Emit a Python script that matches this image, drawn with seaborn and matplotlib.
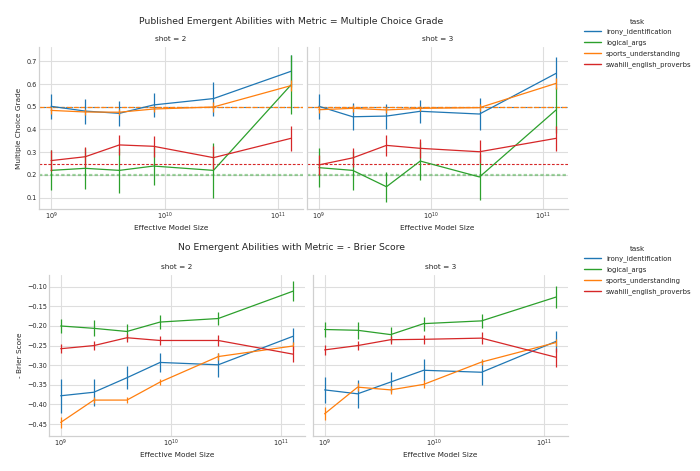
import numpy as np
import pandas as pd
import seaborn as sns
import matplotlib.pyplot as plt
from matplotlib.lines import Line2D

# ---------------- data ----------------
tasks = ["irony_identification", "logical_args", "sports_understanding", "swahili_english_proverbs"]
model_sizes = [1.0e9, 2.0e9, 4.0e9, 8.0e9, 2.7e10, 1.3e11]
shots = [2, 3]

# Multiple Choice Grade, shot = 2
mcg_s2_irony = [0.502, 0.481, 0.471, 0.508, 0.536, 0.656]
mcg_s2_irony_err = [0.056, 0.055, 0.055, 0.054, 0.075, 0.070]
mcg_s2_logic = [0.220, 0.229, 0.220, 0.239, 0.220, 0.596]
mcg_s2_logic_err = [0.088, 0.090, 0.100, 0.085, 0.120, 0.130]
mcg_s2_sports = [0.484, 0.477, 0.476, 0.490, 0.499, 0.593]
mcg_s2_sports_err = [0.015, 0.012, 0.012, 0.012, 0.020, 0.025]
mcg_s2_swahili = [0.263, 0.280, 0.332, 0.326, 0.276, 0.361]
mcg_s2_swahili_err = [0.045, 0.045, 0.045, 0.045, 0.050, 0.055]

# Multiple Choice Grade, shot = 3
mcg_s3_irony = [0.502, 0.456, 0.459, 0.480, 0.468, 0.647]
mcg_s3_irony_err = [0.055, 0.060, 0.055, 0.050, 0.070, 0.070]
mcg_s3_logic = [0.232, 0.220, 0.148, 0.261, 0.191, 0.486]
mcg_s3_logic_err = [0.085, 0.085, 0.065, 0.085, 0.100, 0.100]
mcg_s3_sports = [0.487, 0.493, 0.486, 0.493, 0.496, 0.603]
mcg_s3_sports_err = [0.015, 0.015, 0.015, 0.012, 0.015, 0.025]
mcg_s3_swahili = [0.244, 0.275, 0.330, 0.317, 0.302, 0.361]
mcg_s3_swahili_err = [0.045, 0.042, 0.045, 0.042, 0.050, 0.055]

# chance baselines for Multiple Choice Grade
baselines = [0.5, 0.2, 0.5, 0.25]

# - Brier Score, shot = 2
bs_s2_irony = [-0.378, -0.369, -0.332, -0.293, -0.299, -0.226]
bs_s2_irony_err = [0.044, 0.034, 0.030, 0.025, 0.030, 0.022]
bs_s2_logic = [-0.200, -0.206, -0.214, -0.190, -0.181, -0.111]
bs_s2_logic_err = [0.018, 0.020, 0.020, 0.018, 0.016, 0.025]
bs_s2_sports = [-0.446, -0.389, -0.389, -0.343, -0.278, -0.251]
bs_s2_sports_err = [0.015, 0.008, 0.008, 0.008, 0.008, 0.010]
bs_s2_swahili = [-0.258, -0.250, -0.230, -0.237, -0.237, -0.272]
bs_s2_swahili_err = [0.012, 0.012, 0.010, 0.012, 0.015, 0.020]

# - Brier Score, shot = 3
bs_s3_irony = [-0.363, -0.373, -0.343, -0.313, -0.318, -0.239]
bs_s3_irony_err = [0.033, 0.036, 0.025, 0.028, 0.032, 0.027]
bs_s3_logic = [-0.209, -0.211, -0.222, -0.194, -0.187, -0.126]
bs_s3_logic_err = [0.020, 0.022, 0.020, 0.018, 0.017, 0.027]
bs_s3_sports = [-0.424, -0.356, -0.363, -0.349, -0.292, -0.242]
bs_s3_sports_err = [0.017, 0.010, 0.010, 0.010, 0.008, 0.010]
bs_s3_swahili = [-0.261, -0.250, -0.235, -0.234, -0.231, -0.280]
bs_s3_swahili_err = [0.012, 0.012, 0.010, 0.012, 0.015, 0.025]

mcg_vals = {2: [mcg_s2_irony, mcg_s2_logic, mcg_s2_sports, mcg_s2_swahili],
            3: [mcg_s3_irony, mcg_s3_logic, mcg_s3_sports, mcg_s3_swahili]}
mcg_errs = {2: [mcg_s2_irony_err, mcg_s2_logic_err, mcg_s2_sports_err, mcg_s2_swahili_err],
            3: [mcg_s3_irony_err, mcg_s3_logic_err, mcg_s3_sports_err, mcg_s3_swahili_err]}
bs_vals = {2: [bs_s2_irony, bs_s2_logic, bs_s2_sports, bs_s2_swahili],
           3: [bs_s3_irony, bs_s3_logic, bs_s3_sports, bs_s3_swahili]}
bs_errs = {2: [bs_s2_irony_err, bs_s2_logic_err, bs_s2_sports_err, bs_s2_swahili_err],
           3: [bs_s3_irony_err, bs_s3_logic_err, bs_s3_sports_err, bs_s3_swahili_err]}


def build(vals, errs):
    rows = []
    for s in shots:
        for t, v, e in zip(tasks, vals[s], errs[s]):
            for x, y, err in zip(model_sizes, v, e):
                rows.append(dict(shot=s, task=t, size=x, score=y, err=err))
    return pd.DataFrame(rows)


df_mcg = build(mcg_vals, mcg_errs)
df_bs = build(bs_vals, bs_errs)

# ---------------- style ----------------
sns.set_theme(style="whitegrid")
plt.rcParams["font.family"] = ["DejaVu Sans"]
plt.rcParams["axes.edgecolor"] = "#d0d0d0"
plt.rcParams["grid.color"] = "#dedede"
plt.rcParams["grid.linewidth"] = 0.8
tab = sns.color_palette("tab10")
palette = {"irony_identification": tab[0], "logical_args": tab[2],
           "sports_understanding": tab[1], "swahili_english_proverbs": tab[3]}

fig = plt.figure(figsize=(7, 4.71), dpi=100)
W, H = 700.0, 471.0


def px_axes(x0, x1, y0, y1, sharey=None):
    return fig.add_axes([x0 / W, 1 - y1 / H, (x1 - x0) / W, (y1 - y0) / H], sharey=sharey)


TICK = 4.7
LAB = 5.3
TIT = 5.3


def draw_panel(ax, df, shot, ylabel, show_ylabel, base=False):
    sub = df[df["shot"] == shot]
    if base:
        styles = {"irony_identification": dict(ls=(0, (2, 2)), lw=0.8, alpha=0.9, zorder=1),
                  "sports_understanding": dict(ls=(0, (4, 1.5)), lw=0.9, alpha=1, zorder=1.2),
                  "logical_args": dict(ls=(0, (1.5, 1)), lw=1.6, alpha=0.45, zorder=1),
                  "swahili_english_proverbs": dict(ls=(0, (2.5, 1.5)), lw=0.8, alpha=1, zorder=1)}
        for t, b in zip(tasks, baselines):
            ax.axhline(b, color=palette[t], **styles[t])
    sns.lineplot(data=sub, x="size", y="score", hue="task", hue_order=tasks,
                 palette=palette, ax=ax, linewidth=0.9, legend=False, errorbar=None)
    for t in tasks:
        d = sub[sub["task"] == t]
        ax.errorbar(d["size"], d["score"], yerr=d["err"], fmt="none",
                    ecolor=palette[t], elinewidth=0.9, capsize=0)
    ax.set_xscale("log")
    ax.set_xlabel("Effective Model Size", fontsize=LAB, labelpad=2)
    ax.set_ylabel(ylabel if show_ylabel else "", fontsize=LAB, labelpad=3)
    ax.set_title(f"shot = {shot}", fontsize=TIT, pad=4)
    ax.tick_params(axis="both", labelsize=TICK, pad=1.5, length=0)
    ax.minorticks_off()
    ax.set_xticks([1e9, 1e10, 1e11])
    sns.despine(ax=ax)
    for sp in ax.spines.values():
        sp.set_linewidth(0.9)


# ---- top: Multiple Choice Grade ----
axA = px_axes(39, 303, 47, 209)
axB = px_axes(307, 568, 47, 209, sharey=axA)
draw_panel(axA, df_mcg, 2, "Multiple Choice Grade", True, base=True)
draw_panel(axB, df_mcg, 3, "Multiple Choice Grade", False, base=True)
axA.set_ylim(0.05, 0.763)
axA.set_yticks([0.1, 0.2, 0.3, 0.4, 0.5, 0.6, 0.7])
plt.setp(axB.get_yticklabels(), visible=False)
fig.text(291 / W, 1 - 21 / H, "Published Emergent Abilities with Metric = Multiple Choice Grade",
         ha="center", va="center", fontsize=6.65)

# ---- bottom: - Brier Score ----
axC = px_axes(49, 305, 275, 436)
axD = px_axes(313, 568, 275, 436, sharey=axC)
draw_panel(axC, df_bs, 2, "- Brier Score", True)
draw_panel(axD, df_bs, 3, "- Brier Score", False)
axC.set_ylim(-0.4806, -0.070)
axC.set_yticks([-0.45, -0.40, -0.35, -0.30, -0.25, -0.20, -0.15, -0.10])
plt.setp(axD.get_yticklabels(), visible=False)
fig.text(291 / W, 1 - 247 / H, "No Emergent Abilities with Metric = - Brier Score",
         ha="center", va="center", fontsize=6.65)

for ax in (axA, axB, axC, axD):
    ax.set_xlim(10 ** 8.894, 10 ** 11.22)

# ---- legends ----
handles = [Line2D([], [], color=palette[t], lw=1.0) for t in tasks]
for ytop in (16, 243):
    leg = fig.legend(handles, tasks, title="task", loc="upper left",
                     bbox_to_anchor=(581 / W, 1 - ytop / H), frameon=False,
                     fontsize=4.95, title_fontsize=5.2, handlelength=2.5,
                     handletextpad=0.75, labelspacing=0.58, borderaxespad=0)

fig.savefig("out.png", dpi=100)
